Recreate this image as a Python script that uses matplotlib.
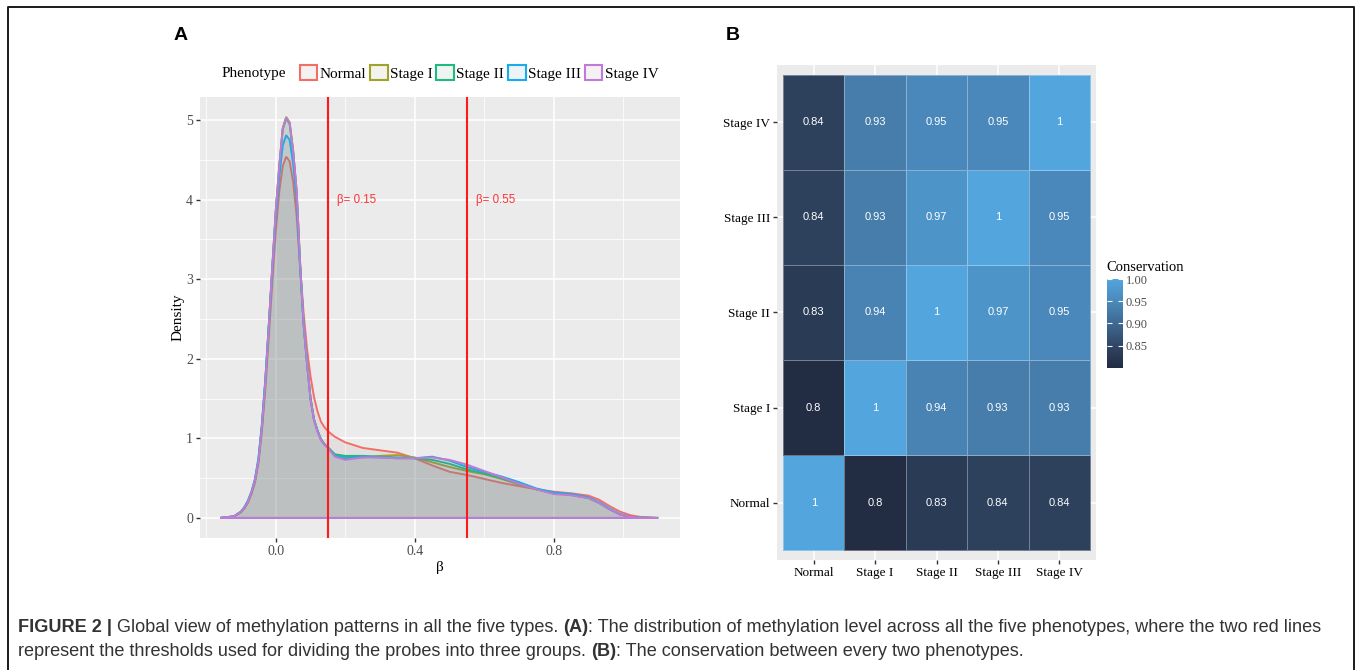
import numpy as np
import matplotlib
matplotlib.use('Agg')
import matplotlib.pyplot as plt
from matplotlib.colors import LinearSegmentedColormap, to_rgb
from matplotlib.patches import Patch
from matplotlib.lines import Line2D
from matplotlib import font_manager

W, H = 1358, 670

# ---- data --------------------------------------------------------------
phenotypes = ['Normal', 'Stage I', 'Stage II', 'Stage III', 'Stage IV']
colors = ['#F26F68', '#A0A22A', '#1FBA7E', '#17ACEB', '#C27AD6']

beta = [-0.16, -0.12, -0.10, -0.09, -0.08, -0.07, -0.06, -0.05, -0.04, -0.03,
        -0.02, -0.01, 0.00, 0.01, 0.02, 0.03, 0.04, 0.05, 0.06, 0.07,
        0.08, 0.09, 0.10, 0.11, 0.12, 0.13, 0.14, 0.15, 0.17, 0.20,
        0.25, 0.30, 0.35, 0.40, 0.45, 0.50, 0.55, 0.60, 0.65, 0.70,
        0.75, 0.80, 0.85, 0.90, 0.93, 0.96, 0.99, 1.02, 1.05, 1.10]

dens_normal = [0, 0.02, 0.07, 0.12, 0.19, 0.30, 0.44, 0.68, 1.08, 1.62,
               2.28, 2.95, 3.60, 4.10, 4.42, 4.54, 4.48, 4.22, 3.80, 3.15,
               2.58, 2.12, 1.78, 1.52, 1.34, 1.21, 1.14, 1.09, 1.02, 0.95,
               0.88, 0.85, 0.82, 0.75, 0.66, 0.58, 0.54, 0.49, 0.44, 0.40,
               0.36, 0.33, 0.31, 0.28, 0.23, 0.15, 0.08, 0.035, 0.012, 0]
dens_stage1 = [0, 0.02, 0.08, 0.13, 0.21, 0.32, 0.47, 0.72, 1.15, 1.72,
               2.42, 3.15, 3.86, 4.42, 4.90, 5.04, 4.97, 4.62, 4.10, 3.20,
               2.45, 1.95, 1.50, 1.24, 1.10, 0.99, 0.93, 0.88, 0.79, 0.77,
               0.76, 0.78, 0.79, 0.76, 0.70, 0.64, 0.59, 0.55, 0.49, 0.42,
               0.36, 0.31, 0.29, 0.25, 0.19, 0.11, 0.045, 0.012, 0.003, 0]
dens_stage2 = [0, 0.02, 0.08, 0.13, 0.21, 0.32, 0.47, 0.72, 1.15, 1.72,
               2.42, 3.15, 3.85, 4.41, 4.88, 5.02, 4.95, 4.60, 4.10, 3.20,
               2.45, 1.95, 1.50, 1.24, 1.10, 0.99, 0.93, 0.89, 0.80, 0.78,
               0.78, 0.77, 0.76, 0.75, 0.73, 0.68, 0.61, 0.56, 0.50, 0.43,
               0.36, 0.31, 0.29, 0.25, 0.19, 0.11, 0.045, 0.012, 0.003, 0]
dens_stage3 = [0, 0.02, 0.08, 0.14, 0.22, 0.33, 0.49, 0.75, 1.18, 1.75,
               2.42, 3.12, 3.78, 4.28, 4.68, 4.81, 4.75, 4.45, 4.00, 3.15,
               2.42, 1.93, 1.50, 1.23, 1.09, 0.98, 0.92, 0.88, 0.78, 0.75,
               0.77, 0.76, 0.75, 0.75, 0.77, 0.72, 0.64, 0.58, 0.52, 0.45,
               0.37, 0.32, 0.30, 0.26, 0.20, 0.12, 0.05, 0.014, 0.003, 0]
dens_stage4 = [0, 0.02, 0.08, 0.13, 0.21, 0.32, 0.47, 0.72, 1.15, 1.72,
               2.42, 3.15, 3.86, 4.42, 4.89, 5.03, 4.96, 4.61, 4.12, 3.20,
               2.45, 1.95, 1.50, 1.23, 1.09, 0.98, 0.92, 0.88, 0.77, 0.73,
               0.76, 0.76, 0.75, 0.75, 0.76, 0.73, 0.67, 0.59, 0.51, 0.43,
               0.36, 0.30, 0.285, 0.25, 0.19, 0.11, 0.045, 0.012, 0.003, 0]
densities = [dens_normal, dens_stage1, dens_stage2, dens_stage3, dens_stage4]

thresholds = [0.15, 0.55]

# rows from bottom (Normal) to top (Stage IV), columns Normal .. Stage IV
conservation = [
    [1.00, 0.80, 0.83, 0.84, 0.84],
    [0.80, 1.00, 0.94, 0.93, 0.93],
    [0.83, 0.94, 1.00, 0.97, 0.95],
    [0.84, 0.93, 0.97, 1.00, 0.95],
    [0.84, 0.93, 0.95, 0.95, 1.00],
]

# ---- figure ------------------------------------------------------------
plt.rcParams['font.family'] = ['Liberation Serif', 'DejaVu Serif']
fig = plt.figure(figsize=(W / 100, H / 100), dpi=100)
fig.patch.set_facecolor('white')

GREY = '#4D4D4D'


def fill_of(c):
    # muted fill: the five translucent layers add up to a neutral grey
    r = 0.6 * np.array([0.5, 0.5, 0.5]) + 0.4 * np.array(to_rgb(c))
    return (*r, 0.1)


# panel A: density curves
axA = fig.add_axes([200 / W, 1 - 538 / H, 480 / W, 441 / H])
axA.set_facecolor('#EBEBEB')
for s in axA.spines.values():
    s.set_visible(False)
axA.set_axisbelow(True)
axA.set_xlim(-0.218, 1.163)
axA.set_ylim(-0.252, 5.29)
axA.set_xticks([0, 0.4, 0.8])
axA.set_xticklabels(['0.0', '0.4', '0.8'])
axA.set_xticks([-0.2, 0.2, 0.6, 1.0], minor=True)
axA.set_yticks(range(6))
axA.set_yticks(np.arange(0.5, 5, 1.0), minor=True)
axA.grid(which='major', color='white', lw=1.1)
axA.grid(which='minor', color='white', lw=0.55)
axA.tick_params(which='minor', length=0)
axA.tick_params(which='major', length=3, width=1, color='#333333',
                labelcolor=GREY, labelsize=10, pad=2)

for c, d in zip(colors, densities):
    xs = beta + [beta[-1], beta[0]]
    ys = d + [0, 0]
    axA.fill(xs, ys, facecolor=fill_of(c), edgecolor=c, lw=1.4, zorder=2)

for t in thresholds:
    axA.axvline(t, color='#FF1A1A', lw=1.5, zorder=3)
    axA.text(t + 0.027, 4.0, 'β= %.2f' % t, color='#FF3333', fontsize=8.3,
             family=['Liberation Sans', 'DejaVu Sans'], va='center', ha='left')

axA.set_xlabel('β', fontsize=11, labelpad=2)
axA.set_ylabel('Density', fontsize=11, labelpad=1)

handles = [Patch(facecolor=fill_of(c), edgecolor=c, lw=1.5) for c in colors]
fig.legend(handles, phenotypes, loc='center', bbox_to_anchor=(479 / W, 1 - 73 / H),
           ncol=5, frameon=False, fontsize=11, handlelength=1.15, handleheight=1.15,
           handletextpad=0.15, columnspacing=0.25, borderpad=0, borderaxespad=0)
fig.text(222 / W, 1 - 73 / H, 'Phenotype', fontsize=11, va='center', ha='left')

# panel B: conservation heatmap
cmap = LinearSegmentedColormap.from_list(
    'cons', [(0, '#222C43'), (0.2, '#2D405C'), (0.675, '#4780AE'),
             (0.75, '#4A88BB'), (1, '#52A5DD')])
axB = fig.add_axes([777 / W, 1 - 560 / H, 319 / W, 495 / H])
axB.set_facecolor('#EBEBEB')
for s in axB.spines.values():
    s.set_visible(False)
axB.set_axisbelow(True)
edges = np.arange(len(phenotypes) + 1) - 0.5
mesh = axB.pcolormesh(edges, edges, np.array(conservation), cmap=cmap,
                      vmin=0.8, vmax=1.0, edgecolors=(1, 1, 1, 0.35), linewidth=0.6)
for i, row in enumerate(conservation):
    for j, v in enumerate(row):
        axB.text(j, i, '%g' % v, color='white', fontsize=8,
                 family=['Liberation Sans', 'DejaVu Sans'], ha='center', va='center')
axB.set_xlim(-0.6, 4.6)
axB.set_ylim(-0.6, 4.6)
axB.set_xticks(range(5))
axB.set_yticks(range(5))
axB.set_xticklabels(phenotypes)
axB.set_yticklabels(phenotypes)
axB.get_xticklabels()[3].set_fontsize(8)
axB.grid(color='white', lw=1.1)
axB.tick_params(length=3, width=1, color='#333333', labelcolor='black',
                labelsize=9.5, pad=2)

cax = fig.add_axes([1107 / W, 1 - 368 / H, 16 / W, 89 / H])
cb = fig.colorbar(mesh, cax=cax, ticks=[0.85, 0.90, 0.95, 1.00])
cb.outline.set_visible(False)
cax.set_yticklabels(['0.85', '0.90', '0.95', '1.00'])
cax.tick_params(axis='y', left=True, right=True, labelleft=False, labelright=True,
                direction='in', color='white', length=3.5, width=0.8,
                labelsize=9, labelcolor=GREY, pad=2)
fig.text(1106 / W, 1 - 267 / H, 'Conservation', fontsize=10.5, va='center', ha='left')

# panel letters
fig.text(181 / W, 1 - 35 / H, 'A', fontsize=14, fontweight='bold',
         family=['Liberation Sans', 'DejaVu Sans'], ha='center', va='center')
fig.text(733 / W, 1 - 35 / H, 'B', fontsize=14, fontweight='bold',
         family=['Liberation Sans', 'DejaVu Sans'], ha='center', va='center')

# frame (open at the bottom)
fig.add_artist(Line2D([8 / W, 8 / W, 1354 / W, 1354 / W], [0, 1 - 7 / H, 1 - 7 / H, 0],
                      transform=fig.transFigure, color='#1a1a1a', lw=1.4))

# caption
names = {f.name for f in font_manager.fontManager.ttflist}
cap_family = 'Liberation Sans Narrow' if 'Liberation Sans Narrow' in names else 'Liberation Sans'
line1 = [('FIGURE 2 | ', True), ('Global view of methylation patterns in all the five types. ', False),
         ('(A)', True), (': The distribution of methylation level across all the five phenotypes, '
                          'where the two red lines', False)]
line2 = [('represent the thresholds used for dividing the probes into three groups. ', False),
         ('(B)', True), (': The conservation between every two phenotypes.', False)]

renderer = fig.canvas.get_renderer()


def draw_line(pieces, x0, y, size):
    x = x0
    made = []
    for s, bold in pieces:
        t = fig.text(x / W, 1 - y / H, s, fontsize=size, family=[cap_family, 'DejaVu Sans'],
                     fontweight='bold' if bold else 'normal', color='#333333',
                     va='center', ha='left')
        x += t.get_window_extent(renderer).width
        made.append(t)
    return x - x0, made


width, tmp = draw_line(line1, 18, 628, 12)
for t in tmp:
    t.remove()
size = 12 * 1304 / width
draw_line(line1, 18, 628, size)
draw_line(line2, 18, 651, size)

fig.savefig('out.png', dpi=100)
